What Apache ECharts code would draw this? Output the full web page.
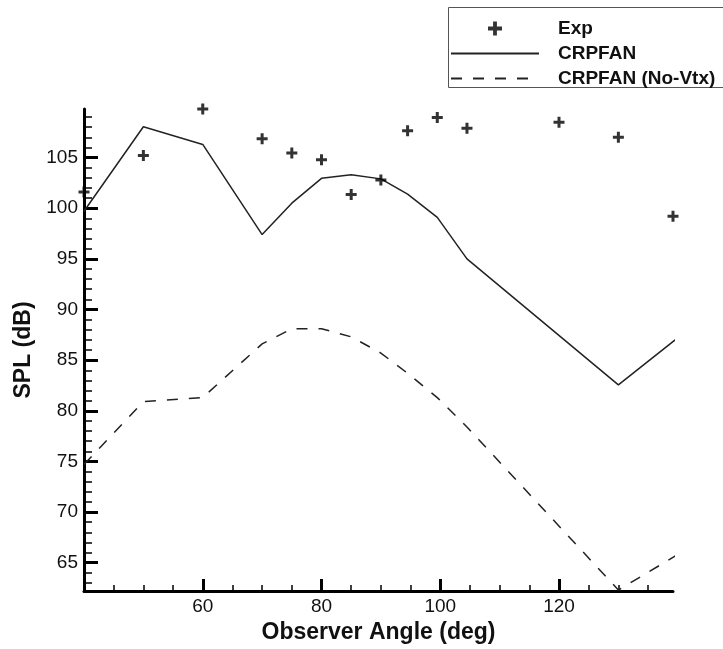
<!DOCTYPE html>
<html>
<head>
<meta charset="utf-8">
<script src="https://cdn.jsdelivr.net/npm/echarts@6/dist/echarts.min.js"></script>
<style>
html,body{margin:0;padding:0;background:#fff;}
#chart{width:723px;height:649px;}
</style>
</head>
<body>
<div id="chart"></div>
<script>
// ---- data ----
const expAngles = [40, 50, 60, 70, 75, 80, 85, 90, 94.5, 99.5, 104.5, 120, 130, 139.2];
const expSPL    = [101.6, 105.2, 109.8, 106.85, 105.45, 104.8, 101.35, 102.8, 107.65, 108.95, 107.9, 108.5, 107.0, 99.2];

const simAngles = [40, 50, 60, 70, 75, 80, 85, 90, 94.5, 99.5, 104.5, 130, 140];
const crpfanSPL = [99.7, 108.05, 106.3, 97.4, 100.5, 102.95, 103.3, 102.9, 101.4, 99.1, 95.0, 82.55, 87.2];
const noVtxSPL  = [74.7, 80.9, 81.3, 86.6, 88.1, 88.1, 87.3, 85.7, 83.7, 81.3, 78.4, 62.3, 65.8];

const xMajorTicks = [60, 80, 100, 120];
const xMinorTicks = [45, 50, 55, 65, 70, 75, 85, 90, 95, 105, 110, 115, 125, 130, 135];
const yMajorTicks = [65, 70, 75, 80, 85, 90, 95, 100, 105];
const yMinorTicks = [63, 64, 66, 67, 68, 69, 71, 72, 73, 74, 76, 77, 78, 79, 81, 82, 83, 84, 86, 87, 88, 89, 91, 92, 93, 94, 96, 97, 98, 99, 101, 102, 103, 104, 106, 107, 108, 109];

const seriesNames = ['Exp', 'CRPFAN', 'CRPFAN (No-Vtx)'];
// --------------------------------------

const FONT = '"Liberation Sans", Arial, Helvetica, sans-serif';
const zip = (xs, ys) => xs.map((x, i) => [x, ys[i]]);
const plusPath = 'path://M4,0H7V4H11V7H7V11H4V7H0V4H4Z';

const xRange = {min: 40, max: 139.2};
const yRange = {min: 62.2, max: 109.8};

const chart = echarts.init(document.getElementById('chart'), null, {renderer: 'canvas'});
chart.setOption({
  animation: false,
  backgroundColor: '#fff',
  grid: {left: 84, right: 50, top: 109, bottom: 58},
  graphic: [{
    type: 'rect', z: 0, silent: true,
    shape: {x: 448.5, y: 7.5, width: 320, height: 80},
    style: {fill: 'none', stroke: '#555', lineWidth: 1}
  }],
  legend: {
    orient: 'vertical', left: 448, top: 7,
    itemWidth: 88, itemHeight: 14, itemGap: 6,
    padding: [12, 10, 0, 2],
    borderWidth: 0,
    textStyle: {fontSize: 19, fontWeight: 'bold', color: '#111', fontFamily: FONT, padding: [0, 0, 0, 14]},
    data: [
      {name: seriesNames[0]},
      {name: seriesNames[1], itemStyle: {opacity: 0}},
      {name: seriesNames[2], itemStyle: {opacity: 0}}
    ]
  },
  xAxis: [
    Object.assign({
      type: 'value', position: 'bottom',
      axisLine: {show: true, onZero: false, lineStyle: {color: '#000', width: 3}},
      axisTick: {show: true, inside: true, length: 12, lineStyle: {color: '#000', width: 3}, customValues: xMajorTicks},
      axisLabel: {customValues: xMajorTicks, fontSize: 19, color: '#111', margin: 6, fontFamily: FONT},
      splitLine: {show: false},
      name: 'Observer Angle (deg)', nameLocation: 'middle', nameGap: 30,
      nameTextStyle: {fontSize: 23, fontWeight: 'bold', color: '#111', fontFamily: FONT}
    }, xRange),
    Object.assign({
      type: 'value', position: 'bottom',
      axisLine: {show: false},
      axisTick: {show: true, inside: true, length: 6, lineStyle: {color: '#000', width: 1.5}, customValues: xMinorTicks},
      axisLabel: {show: false}, splitLine: {show: false}
    }, xRange)
  ],
  yAxis: [
    Object.assign({
      type: 'value', position: 'left',
      axisLine: {show: true, onZero: false, lineStyle: {color: '#000', width: 3}},
      axisTick: {show: true, inside: true, length: 14, lineStyle: {color: '#000', width: 3}, customValues: yMajorTicks},
      axisLabel: {customValues: yMajorTicks, fontSize: 19, color: '#111', margin: 6, fontFamily: FONT},
      splitLine: {show: false},
      name: 'SPL (dB)', nameLocation: 'middle', nameGap: 46,
      nameTextStyle: {fontSize: 23, fontWeight: 'bold', color: '#111', fontFamily: FONT}
    }, yRange),
    Object.assign({
      type: 'value', position: 'left',
      axisLine: {show: false},
      axisTick: {show: true, inside: true, length: 8, lineStyle: {color: '#000', width: 1.5}, customValues: yMinorTicks},
      axisLabel: {show: false}, splitLine: {show: false}
    }, yRange)
  ],
  series: [
    {
      name: seriesNames[0], type: 'scatter', clip: false,
      symbol: plusPath, symbolSize: 11,
      itemStyle: {color: '#000'},
      data: zip(expAngles, expSPL), z: 5
    },
    {
      name: seriesNames[1], type: 'line', symbol: 'none', clip: true,
      lineStyle: {color: '#222', width: 1.5, type: 'solid'},
      itemStyle: {color: '#222'},
      data: zip(simAngles, crpfanSPL)
    },
    {
      name: seriesNames[2], type: 'line', symbol: 'none', clip: true,
      lineStyle: {color: '#222', width: 1.5, type: [11, 11]},
      itemStyle: {color: '#222'},
      data: zip(simAngles, noVtxSPL)
    }
  ]
});
</script>
</body>
</html>
